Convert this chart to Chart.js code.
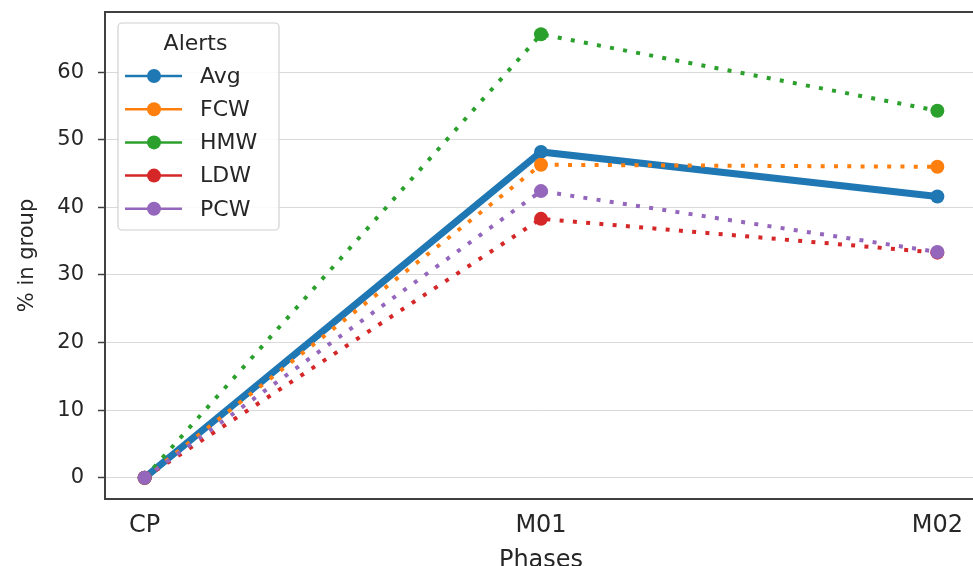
<!DOCTYPE html>
<html>
<head>
  <meta charset="utf-8">
  <title>Alerts by phase</title>
  <script src="https://cdn.jsdelivr.net/npm/chart.js"></script>
  <style>
    body {
      margin: 0;
      background: white;
      overflow: hidden;
    }
    #wrap {
      width: 973px;
      height: 566px;
      overflow: hidden;
    }
  </style>
</head>
<body>
  <div id="wrap"><canvas id="chart" width="990" height="575"></canvas></div>

  <script>
    // data
    const phases = ['CP', 'M01', 'M02'];
    const seriesNames = ['Avg', 'FCW', 'HMW', 'LDW', 'PCW'];
    const avgVals = [0, 48.2, 41.6];
    const fcwVals = [0, 46.3, 46.0];
    const hmwVals = [0, 65.6, 54.3];
    const ldwVals = [0, 38.3, 33.3];
    const pcwVals = [0, 42.4, 33.4];
    const yTicks = [0, 10, 20, 30, 40, 50, 60];

    const colors = ['#1f77b4', '#ff7f0e', '#2ca02c', '#d62728', '#9467bd'];
    const allVals = [avgVals, fcwVals, hmwVals, ldwVals, pcwVals];
    const font = '"DejaVu Sans", sans-serif';
    const textColor = '#262626';
    const axisColor = '#404040';

    const datasets = seriesNames.map((name, i) => ({
      label: name,
      data: allVals[i].map((v, j) => ({ x: j, y: v })),
      borderColor: colors[i],
      backgroundColor: colors[i],
      borderWidth: i === 0 ? 7 : 4,
      borderDash: i === 0 ? [] : [4, 9.3],
      pointRadius: 7,
      pointHoverRadius: 7,
      pointBorderWidth: 0,
      tension: 0,
      order: seriesNames.length - i   // later series on top, like the original
    }));

    // top frame line
    const topFrame = {
      id: 'topFrame',
      afterDraw(chart) {
        const { ctx, chartArea } = chart;
        ctx.save();
        ctx.strokeStyle = axisColor;
        ctx.lineWidth = 2;
        ctx.beginPath();
        ctx.moveTo(chartArea.left, chartArea.top);
        ctx.lineTo(chartArea.right, chartArea.top);
        ctx.stroke();
        ctx.restore();
      }
    };

    // matplotlib-like legend inside the plot
    const legendBox = {
      id: 'legendBox',
      afterDraw(chart) {
        const { ctx, chartArea } = chart;
        const x = chartArea.left + 13, y = chartArea.top + 11;
        const w = 161, h = 207;
        ctx.save();
        ctx.fillStyle = 'rgba(255,255,255,0.85)';
        ctx.strokeStyle = '#d0d0d0';
        ctx.lineWidth = 1.2;
        ctx.beginPath();
        ctx.roundRect(x, y, w, h, 4);
        ctx.fill();
        ctx.stroke();

        ctx.fillStyle = textColor;
        ctx.font = '22px ' + font;
        ctx.textAlign = 'center';
        ctx.textBaseline = 'middle';
        ctx.fillText('Alerts', x + w / 2 - 3, y + 21);

        ctx.textAlign = 'left';
        chart.data.datasets.forEach((ds, i) => {
          const ry = y + 53 + i * 33.2;
          ctx.strokeStyle = ds.borderColor;
          ctx.lineWidth = 2.5;
          ctx.beginPath();
          ctx.moveTo(x + 7, ry);
          ctx.lineTo(x + 64, ry);
          ctx.stroke();
          ctx.fillStyle = ds.borderColor;
          ctx.beginPath();
          ctx.arc(x + 36, ry, 7, 0, Math.PI * 2);
          ctx.fill();
          ctx.fillStyle = textColor;
          ctx.fillText(ds.label, x + 82, ry + 1);
        });
        ctx.restore();
      }
    };

    new Chart(document.getElementById('chart'), {
      type: 'line',
      data: { datasets },
      plugins: [topFrame, legendBox],
      options: {
        responsive: false,
        animation: false,
        layout: { padding: { top: 12, right: 13, left: 0, bottom: 0 } },
        plugins: {
          legend: { display: false },
          tooltip: { enabled: false }
        },
        scales: {
          x: {
            type: 'linear',
            min: -0.1,
            max: 2.1,
            afterBuildTicks: s => { s.ticks = phases.map((p, i) => ({ value: i })); },
            afterFit: s => { s.height = 76; s.paddingLeft = 0; s.paddingRight = 0; },
            ticks: {
              callback: v => phases[v],
              color: textColor,
              font: { family: font, size: 24 },
              padding: 12,
              maxRotation: 0
            },
            grid: { display: false, drawTicks: false },
            border: { display: true, color: axisColor, width: 2 },
            title: {
              display: true,
              text: 'Phases',
              color: textColor,
              font: { family: font, size: 24 },
              padding: { top: 2, bottom: 0 }
            }
          },
          y: {
            min: -3.15,
            max: 68.9,
            afterBuildTicks: s => { s.ticks = yTicks.map(v => ({ value: v })); },
            afterFit: s => { s.width = 105; s.paddingTop = 0; s.paddingBottom = 0; },
            ticks: {
              color: textColor,
              font: { family: font, size: 21 },
              padding: 14
            },
            grid: {
              color: '#d9d9d9',
              lineWidth: 1,
              borderDash: [2, 2],
              tickLength: 7,
              tickColor: axisColor,
              tickBorderDash: [],
              tickWidth: 1.5
            },
            border: { display: true, color: axisColor, width: 2 },
            title: {
              display: true,
              text: '% in group',
              color: textColor,
              font: { family: font, size: 21 },
              padding: { top: 15, bottom: 0 }
            }
          }
        }
      }
    });
  </script>
</body>
</html>
